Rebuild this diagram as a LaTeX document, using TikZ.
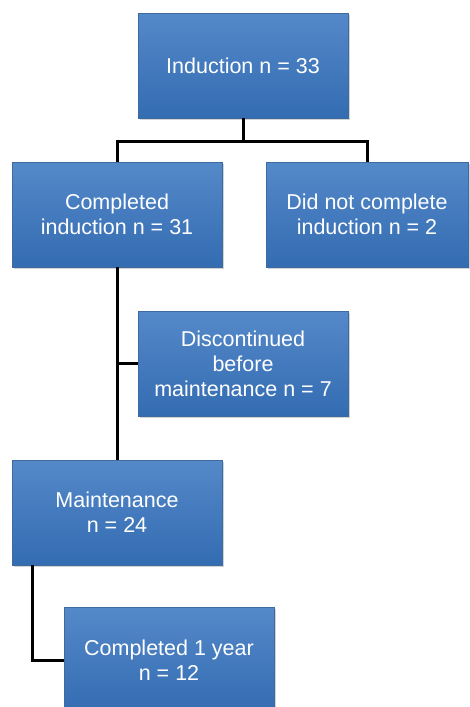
\documentclass[tikz,border=0pt]{standalone}
\usepackage{fontspec}
\setmainfont{Liberation Sans}
\usetikzlibrary{shadows}
\definecolor{boxtop}{RGB}{84,137,201}
\definecolor{boxbottom}{RGB}{52,108,178}
\definecolor{boxline}{RGB}{62,106,160}

\begin{document}
\begin{tikzpicture}[x=1pt,y=-1pt,
                stage/.style={rectangle,draw=boxline,line width=0.6pt,top color=boxtop,bottom color=boxbottom,
                    minimum width=210pt,minimum height=105pt,text=white,align=center,
                    font=\fontsize{21.5}{25}\selectfont,drop shadow={shadow xshift=1.5pt,shadow yshift=-1.5pt,opacity=0.35}},
                link/.style={draw=black,line width=3pt}
            ]
                \useasboundingbox (0,0) rectangle (470,707);
                % boxes
                \node[stage] (induction) at (243,65.5) {Induction n = 33};
                \node[stage] (completed) at (117,214.5) {Completed\\induction n = 31};
                \node[stage,minimum width=202pt] (notcompleted) at (367,214.5) {Did not complete\\induction n = 2};
                \node[stage] (discontinued) at (243,363.5) {Discontinued\\before\\maintenance n = 7};
                \node[stage] (maintenance) at (117,512.5) {Maintenance\\n = 24};
                \node[stage] (oneyear) at (169,660) {Completed 1 year\\n = 12};

                % connectors
                \coordinate (split) at ([yshift=-23pt]induction.south);
                \draw[link] (induction.south) -- (split) -| (completed.north);
                \draw[link] (split) -| (notcompleted.north);
                \draw[link] (completed.south) -- (maintenance.north);
                \draw[link] (discontinued.west) -- (discontinued.west -| completed.south);
                \coordinate (down) at ([xshift=21pt]maintenance.south west);
                \draw[link] (down) |- (oneyear.west);

            \end{tikzpicture}
\end{document}
